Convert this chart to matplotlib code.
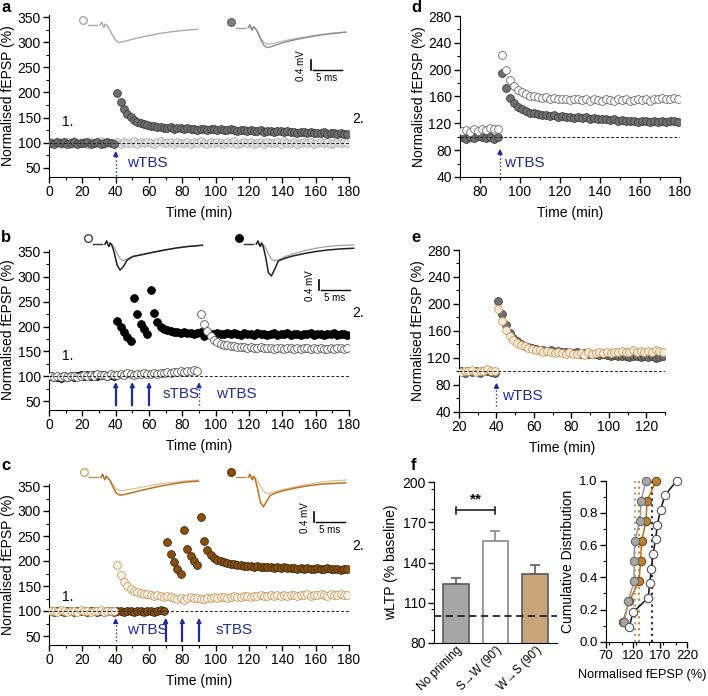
import numpy as np
import matplotlib
matplotlib.use('Agg')
import matplotlib.pyplot as plt
from matplotlib.lines import Line2D
from matplotlib.ticker import MultipleLocator, FixedLocator

plt.rcParams['font.family'] = ['Liberation Sans', 'DejaVu Sans']
plt.rcParams['font.size'] = 10

# ---------------- data ----------------
# time courses are sampled every 2 min; first sample time given per panel
a_t0 = 1
a_ctrl = [101, 99, 102, 98, 100, 101, 97, 103, 100, 99,
          102, 98, 101, 100, 99, 103, 98, 101, 100, 99,
          101, 98, 102, 99, 100, 103, 97, 101, 99, 102,
          100, 98, 101, 103, 99, 100, 102, 97, 101, 100,
          99, 102, 98, 101, 100, 103, 99, 98, 101, 100,
          102, 99, 97, 101, 100, 103, 98, 100, 101, 99,
          102, 98, 100, 101, 97, 102, 100, 99, 101, 98,
          103, 100, 99, 101, 98, 100, 102, 99, 101, 97,
          100, 102, 99, 101, 98, 100, 101, 99, 102, 100]
a_ltp = [100, 98, 101, 99, 102, 97, 100, 101, 98, 100,
         99, 101, 97, 100, 102, 98, 99, 101, 100, 98,
         198, 182, 168, 158, 151, 146, 142, 139, 137, 135,
         134, 133, 131, 132, 130, 129, 131, 128, 129, 130,
         128, 129, 127, 128, 126, 128, 127, 126, 128, 127,
         126, 127, 125, 126, 127, 125, 124, 126, 125, 124,
         125, 123, 124, 125, 122, 124, 123, 122, 124, 123,
         122, 123, 121, 122, 120, 122, 121, 120, 121, 119,
         120, 119, 121, 118, 119, 120, 118, 119, 117, 118]

b_t0 = 1
b_open = [100, 99, 101, 98, 100, 99, 101, 100, 98, 101,
          102, 100, 103, 101, 104, 102, 103, 101, 104, 103,
          102, 104, 103, 106, 104, 103, 105, 104, 106, 105,
          104, 106, 105, 107, 106, 108, 107, 109, 108, 110,
          109, 111, 110, 112, 111,
          225, 205, 190, 180, 173, 168, 165, 163, 162, 160,
          160, 159, 158, 159, 157, 158, 157, 156, 158, 157,
          156, 157, 155, 157, 156, 155, 157, 156, 155, 156,
          155, 157, 156, 154, 156, 155, 157, 155, 154, 156,
          155, 157, 156, 155, 156]
b_filled = [100, 98, 99, 97, 100, 98, 101, 99, 100, 102,
            101, 103, 100, 102, 101, 103, 102, 100, 103, 101,
            212, 200, 188, 178, 170,
            258, 225, 205, 195, 184,
            274, 228, 210, 200, 195, 192, 190, 188, 189, 187,
            188, 186, 187, 185, 186, 188, 180, 186, 184, 185,
            186, 184, 185, 187, 184, 186, 185, 183, 186, 184,
            185, 183, 186, 184, 185, 183, 184, 186, 183, 185,
            184, 186, 183, 185, 184, 183, 185, 184, 186, 183,
            185, 184, 183, 185, 184, 186, 183, 185, 184, 183]

c_t0 = 1
c_open = [100, 101, 99, 102, 100, 98, 101, 100, 99, 102,
          101, 100, 98, 101, 100, 102, 99, 100, 101, 100,
          192, 172, 158, 150, 145, 141, 138, 136, 135, 134,
          133, 131, 132, 130, 129, 131, 128, 127, 125, 126,
          122, 126, 128, 127, 126, 124, 125, 127, 126, 128,
          127, 129, 128, 127, 129, 130, 128, 129, 131, 130,
          129, 131, 130, 132, 130, 131, 133, 131, 132, 130,
          132, 131, 133, 132, 130, 133, 132, 134, 131, 133,
          132, 134, 133, 131, 134, 133, 132, 134, 133, 132]
c_filled = [100, 99, 101, 100, 98, 100, 101, 99, 100, 101,
            100, 99, 101, 100, 98, 100, 99, 101, 100, 99,
            101, 100, 99, 101, 100, 98, 100, 101, 99, 100,
            101, 99, 100, 102, 100,
            238, 215, 198, 185, 175,
            262, 225, 210, 200, 192,
            288, 240, 222, 212, 206, 203, 200, 198, 196, 195,
            194, 193, 192, 191, 190, 191, 189, 190, 188, 189,
            188, 189, 187, 188, 186, 188, 187, 186, 187, 185,
            186, 185, 187, 185, 184, 186, 185, 184, 186, 185,
            184, 185, 183, 185, 184]

d_t0 = 71
d_open = [108, 110, 107, 111, 109, 112, 110, 113, 111, 112,
          222, 200, 185, 176, 170, 166, 163, 161, 160, 159,
          158, 159, 157, 158, 156, 157, 156, 155, 157, 156,
          155, 156, 154, 156, 155, 154, 156, 155, 154, 156,
          155, 156, 154, 155, 157, 155, 156, 154, 156, 157,
          158, 156, 157, 158, 157]
d_filled = [99, 97, 100, 98, 101, 99, 98, 100, 97, 99,
            195, 172, 158, 150, 145, 141, 138, 136, 135, 134,
            133, 132, 131, 132, 130, 131, 129, 130, 128, 129,
            128, 129, 127, 128, 126, 127, 126, 125, 126, 124,
            125, 124, 123, 124, 122, 123, 124, 122, 123, 122,
            123, 122, 124, 123, 122]

e_t0 = 21
e_dark = [100, 98, 101, 99, 100, 98, 101, 100, 99, 97,
          205, 185, 168, 157, 150, 145, 141, 138, 136, 134,
          133, 132, 131, 130, 131, 129, 130, 128, 129, 128,
          127, 128, 126, 127, 125, 126, 125, 124, 125, 124,
          123, 124, 122, 123, 122, 121, 123, 122, 121, 122,
          121, 122, 120, 121, 122]
e_tan = [99, 101, 100, 102, 99, 100, 101, 103, 100, 101,
         192, 175, 162, 152, 146, 142, 139, 137, 135, 133,
         132, 131, 129, 130, 128, 127, 129, 127, 126, 128,
         126, 125, 127, 124, 128, 126, 127, 129, 127, 128,
         127, 129, 128, 130, 128, 129, 131, 129, 130, 128,
         130, 129, 131, 130, 129]

# example fEPSP traces (ms after stimulus, mV)
pre_ms = [-2.4, -0.8]
trace_ms = [-0.3, 0, 0.2, 0.4, 0.6, 0.9, 1.3, 1.8, 2.3, 2.9, 3.5, 4.5, 6, 8, 10, 12, 14, 16.5]
art = [0, 0.12, -0.02, -0.1, 0.04]
tr_a_ctrl = art + [-0.02, -0.15, -0.38, -0.58, -0.70, -0.68, -0.62, -0.53, -0.43, -0.34, -0.27, -0.22, -0.17]
tr_a_pre = art + [-0.02, -0.15, -0.38, -0.56, -0.66, -0.65, -0.60, -0.52, -0.43, -0.35, -0.28, -0.22, -0.17]
tr_a_post = art + [-0.02, -0.18, -0.45, -0.68, -0.80, -0.77, -0.69, -0.58, -0.47, -0.38, -0.30, -0.24, -0.18]
tr_b_open_pre = art + [-0.02, -0.15, -0.38, -0.58, -0.67, -0.60, -0.50, -0.43, -0.33, -0.24, -0.16, -0.10, -0.05]
tr_b_open_post = art + [-0.05, -0.35, -0.85, -1.04, -0.90, -0.65, -0.50, -0.43, -0.33, -0.24, -0.16, -0.10, -0.05]
tr_b_fill_pre = art + [-0.02, -0.15, -0.40, -0.60, -0.68, -0.64, -0.52, -0.40, -0.27, -0.17, -0.10, -0.06, -0.04]
tr_b_fill_post = art + [-0.10, -0.50, -1.15, -1.28, -1.00, -0.68, -0.58, -0.48, -0.38, -0.30, -0.24, -0.20, -0.17]
tr_c_open_pre = art + [-0.02, -0.12, -0.30, -0.46, -0.54, -0.53, -0.49, -0.43, -0.34, -0.26, -0.20, -0.15, -0.11]
tr_c_open_post = art + [-0.02, -0.15, -0.40, -0.62, -0.71, -0.70, -0.65, -0.56, -0.45, -0.35, -0.27, -0.20, -0.15]
tr_c_fill_pre = art + [-0.02, -0.14, -0.34, -0.54, -0.64, -0.62, -0.56, -0.47, -0.37, -0.28, -0.20, -0.15, -0.11]
tr_c_fill_post = art + [-0.08, -0.45, -1.00, -1.18, -0.95, -0.72, -0.62, -0.52, -0.42, -0.34, -0.28, -0.25, -0.22]

# panel f
bar_labels = ['No priming', "S\u2192W (90')", "W\u2192S (90')"]
bar_means = [124, 156, 131.5]
bar_sems = [4.5, 7.5, 7]
bar_yticks = [80, 110, 140, 170, 200]
cdf_nopriming = [104, 111, 122, 122, 123, 133, 135, 144]
cdf_sw = [113, 120, 148, 151, 154, 157, 162, 165, 171, 179, 201]
cdf_ws = [101, 113, 131, 134, 136, 144, 146, 163]
cdf_xticks = [70, 120, 170, 220]

# ---------------- figure ----------------
W, H = 708, 696
fig = plt.figure(figsize=(W / 100, H / 100), dpi=100)
BLUE = '#1f2d9c'
GREY_F, GREY_E = '#707070', '#3c3c3c'
TAN_O = '#c99a62'
BROWN = '#8b4f0a'


def px_axes(left, top, right, bottom):
    return fig.add_axes([left / W, 1 - bottom / H, (right - left) / W, (bottom - top) / H])


def tidy(ax, xmaj, ymaj, xminor=True):
    ax.spines['top'].set_visible(False)
    ax.spines['right'].set_visible(False)
    if xmaj:
        ax.xaxis.set_major_locator(MultipleLocator(xmaj))
        if xminor:
            ax.xaxis.set_minor_locator(MultipleLocator(xmaj / 2))
    if ymaj:
        ax.yaxis.set_major_locator(MultipleLocator(ymaj))
        ax.yaxis.set_minor_locator(MultipleLocator(ymaj / 2))
    ax.tick_params(which='major', length=4, width=1, pad=2)
    ax.tick_params(which='minor', length=2.5, width=0.8)


def time_axes(box, xlim, ylim, xmaj, ymaj):
    ax = px_axes(*box)
    ax.set_xlim(*xlim)
    ax.set_ylim(*ylim)
    tidy(ax, xmaj, ymaj)
    ax.tick_params(labelsize=10)
    ax.set_xlabel('Time (min)', fontsize=10, labelpad=5)
    ax.set_ylabel('Normalised fEPSP (%)', fontsize=10, labelpad=2)
    ax.axhline(100, color='#222222', lw=0.7, ls=(0, (3, 2)), zorder=5)
    return ax


def series(ax, t0, vals, sem, face, edge, z):
    t = t0 + 2 * np.arange(len(vals))
    ax.errorbar(t, vals, yerr=sem, fmt='o', ms=5.6, mfc=face, mec=edge, mew=0.6,
                ecolor='#8a8a8a', elinewidth=0.7, capsize=0, zorder=z)


def stim(ax, x, y0, y1, dotted):
    head = (y1 - y0) * 0.22
    ax.plot([x, x], [y0, y1 - head * 0.5], color=BLUE, lw=1.0 if dotted else 1.6,
            ls=':' if dotted else '-', clip_on=False, zorder=6)
    ax.annotate('', xy=(x, y1), xytext=(x, y1 - head), annotation_clip=False,
                arrowprops=dict(arrowstyle='-|>', color=BLUE, lw=1.0,
                                mutation_scale=7, shrinkA=0, shrinkB=0), zorder=6)


def label(ax, x, y, s):
    ax.text(x, y, s, color=BLUE, fontsize=11, va='center', ha='left')


def trace_axes(art_x, base_y):
    ax = px_axes(art_x - 4 * 5.8, base_y - 0.4 * 25, art_x + 18 * 5.8, base_y + 1.4 * 25)
    ax.set_xlim(-4, 18)
    ax.set_ylim(-1.4, 0.4)
    ax.axis('off')
    return ax


def traces(ax, pairs, sym_face, sym_edge, pre_col):
    ax.plot(pre_ms, [0, 0], color=pre_col, lw=1.0)
    for vals, col, lw in pairs:
        ax.plot(trace_ms, vals, color=col, lw=lw)
    ax.plot([-3.3], [0.22], 'o', ms=5.5, mfc=sym_face, mec=sym_edge, mew=0.9, clip_on=False)


def scale_bar(cx, cy):
    fig.add_artist(Line2D([cx / W, cx / W], [1 - (cy - 10) / H, 1 - cy / H], color='k', lw=1.2))
    fig.add_artist(Line2D([(cx + 2) / W, (cx + 31) / W], [1 - cy / H, 1 - cy / H], color='k', lw=1.0))
    fig.text((cx - 4) / W, 1 - (cy - 4) / H, '0.4 mV', rotation=90, ha='right', va='center', fontsize=7)
    fig.text((cx + 16) / W, 1 - (cy + 3) / H, '5 ms', ha='center', va='top', fontsize=7)


def letter(x, y, s):
    fig.text(x / W, 1 - y / H, s, fontsize=12, fontweight='bold', ha='left', va='center')


# ---- a ----
ax = time_axes((49, 15, 349, 177), (0, 180), (32, 354), 20, 50)
series(ax, a_t0, a_ctrl, 4, '#e4e4e4', '#b0b0b0', 2)
series(ax, a_t0, a_ltp, 6, GREY_F, GREY_E, 3)
stim(ax, 40, 33, 84, True)
label(ax, 47, 60, 'wTBS')
ax.text(8, 133, '1.', fontsize=10)
ax.text(182, 140, '2.', fontsize=10, clip_on=False)
traces(trace_axes(101.7, 25), [(tr_a_ctrl, '#a8a8a8', 1.0)], 'white', '#a0a0a0', '#a8a8a8')
traces(trace_axes(250, 27.7), [(tr_a_pre, '#b8b8b8', 0.9), (tr_a_post, '#8c8c8c', 1.0)],
       '#808080', '#606060', '#a0a0a0')
scale_bar(310.5, 70)
letter(1, 8, 'a')

# ---- b ----
ax = time_axes((49, 250, 349, 410), (0, 180), (32, 354), 20, 50)
series(ax, b_t0, b_filled, 6, 'black', 'black', 2)
series(ax, b_t0, b_open, 5, 'white', '#555555', 3)
for x in (40, 50, 60):
    stim(ax, x, 42, 88, False)
stim(ax, 90, 42, 88, True)
label(ax, 68, 64, 'sTBS')
label(ax, 100, 64, 'wTBS')
ax.text(8, 133, '1.', fontsize=10)
ax.text(182, 220, '2.', fontsize=10, clip_on=False)
traces(trace_axes(106.7, 244), [(tr_b_open_pre, '#a0a0a0', 0.9), (tr_b_open_post, '#222222', 1.1)],
       'white', '#333333', '#333333')
traces(trace_axes(258, 244), [(tr_b_fill_pre, '#a0a0a0', 0.9), (tr_b_fill_post, '#222222', 1.1)],
       'black', 'black', '#333333')
scale_bar(319, 290)
letter(1, 238, 'b')

# ---- c ----
ax = time_axes((49, 484, 349, 645), (0, 180), (32, 354), 20, 50)
series(ax, c_t0, c_filled, 7, BROWN, '#3a2a10', 2)
series(ax, c_t0, c_open, 5, '#fbf3e6', TAN_O, 3)
stim(ax, 40, 40, 86, True)
for x in (70, 80, 90):
    stim(ax, x, 40, 86, False)
label(ax, 47, 62, 'wTBS')
label(ax, 100, 62, 'sTBS')
ax.text(8, 120, '1.', fontsize=10)
ax.text(182, 222, '2.', fontsize=10, clip_on=False)
traces(trace_axes(102.7, 477.3), [(tr_c_open_pre, '#dcc09a', 0.9), (tr_c_open_post, '#b87425', 1.1)],
       'white', TAN_O, '#c08a48')
traces(trace_axes(250, 477.3), [(tr_c_fill_pre, '#dcc09a', 0.9), (tr_c_fill_post, '#b87425', 1.1)],
       BROWN, '#5a3206', '#c08a48')
scale_bar(314, 522)
letter(1, 466, 'c')

# ---- d ----
ax = time_axes((460, 16, 680, 177), (70, 180), (40, 280), 20, 40)
series(ax, d_t0, d_filled, 5, GREY_F, GREY_E, 2)
series(ax, d_t0, d_open, 5, 'white', '#6a6a6a', 3)
stim(ax, 90, 45, 82, True)
label(ax, 92, 61, 'wTBS')
letter(411, 8, 'd')

# ---- e ----
ax = time_axes((459, 250, 665, 411.7), (20, 130), (40, 280), 20, 40)
series(ax, e_t0, e_dark, 5, GREY_F, GREY_E, 2)
series(ax, e_t0, e_tan, 5, '#f6ead6', TAN_O, 3)
stim(ax, 40, 49, 83, True)
label(ax, 43, 63, 'wTBS')
letter(411, 238, 'e')

# ---- f: bars ----
ax = px_axes(434, 482, 557, 643)
xb = np.arange(len(bar_means))
bar_faces = ['#a6a6a6', 'white', '#c9a57b']
bar_edges = ['#5c5c5c', '#8a8a8a', '#5c5c5c']
ax.bar(xb, bar_means, width=0.65, color=bar_faces, edgecolor=bar_edges, linewidth=1.2, zorder=2)
for i in range(len(bar_means)):
    ax.errorbar(xb[i], bar_means[i], yerr=[[0], [bar_sems[i]]], fmt='none',
                ecolor=bar_edges[i], elinewidth=1.2, capsize=3.5, capthick=1.2, zorder=1)
ax.axhline(100, color='#222222', lw=1.3, ls=(0, (4, 2.5)), zorder=3, clip_on=False)
ax.set_xlim(-0.54, 2.54)
ax.set_ylim(80, 200)
tidy(ax, None, None)
ax.yaxis.set_major_locator(FixedLocator(bar_yticks))
ax.yaxis.set_minor_locator(MultipleLocator(15))
ax.set_xticks(xb)
ax.set_xticklabels(bar_labels, rotation=45, ha='right', va='top', rotation_mode='anchor', fontsize=8.5)
ax.tick_params(axis='x', length=0, pad=1)
ax.tick_params(axis='y', labelsize=10)
ax.set_ylabel('wLTP (% baseline)', fontsize=10, labelpad=3)
ax.plot([0, 1], [179, 179], color='#222222', lw=1.2)
ax.plot([0, 0], [176.5, 181.5], color='#222222', lw=1.2)
ax.plot([1, 1], [176.5, 181.5], color='#222222', lw=1.2)
ax.text(0.5, 182, '**', ha='center', va='bottom', fontsize=11, fontweight='bold')
letter(411, 465, 'f')

# ---- f: cumulative distributions ----
ax = px_axes(606, 480.7, 687, 641.7)
ax.set_xlim(70, 220)
ax.set_ylim(0, 1)
tidy(ax, None, 0.2)
ax.xaxis.set_major_locator(FixedLocator(cdf_xticks))
ax.xaxis.set_minor_locator(MultipleLocator(25))
ax.tick_params(labelsize=9.5)
ax.axvline(bar_means[0], color='#a8a8a8', ls=':', lw=1.6, zorder=1)
ax.axvline(bar_means[2], color='#d08a30', ls=':', lw=1.6, zorder=1)
ax.axvline(bar_means[1], color='#333333', ls=':', lw=1.6, zorder=1)
for vals, line_c, face, edge, z in [(cdf_ws, '#c0701a', '#b8823e', '#7a4a10', 2),
                                     (cdf_nopriming, '#9a9a9a', '#a8a8a8', '#6a6a6a', 3),
                                     (cdf_sw, '#111111', 'white', '#555555', 4)]:
    y = (np.arange(len(vals)) + 1) / len(vals)
    ax.plot(vals, y, '-o', color=line_c, lw=1.1, ms=6, mfc=face, mec=edge, mew=0.8,
            zorder=z, clip_on=False)
ax.set_ylabel('Cumulative Distribution', fontsize=10, labelpad=3)
ax.set_xlabel('Normalised fEPSP (%)', fontsize=9.2, labelpad=3)
ax.xaxis.set_label_coords(0.45, -0.17)

fig.savefig('out.png', dpi=100)
